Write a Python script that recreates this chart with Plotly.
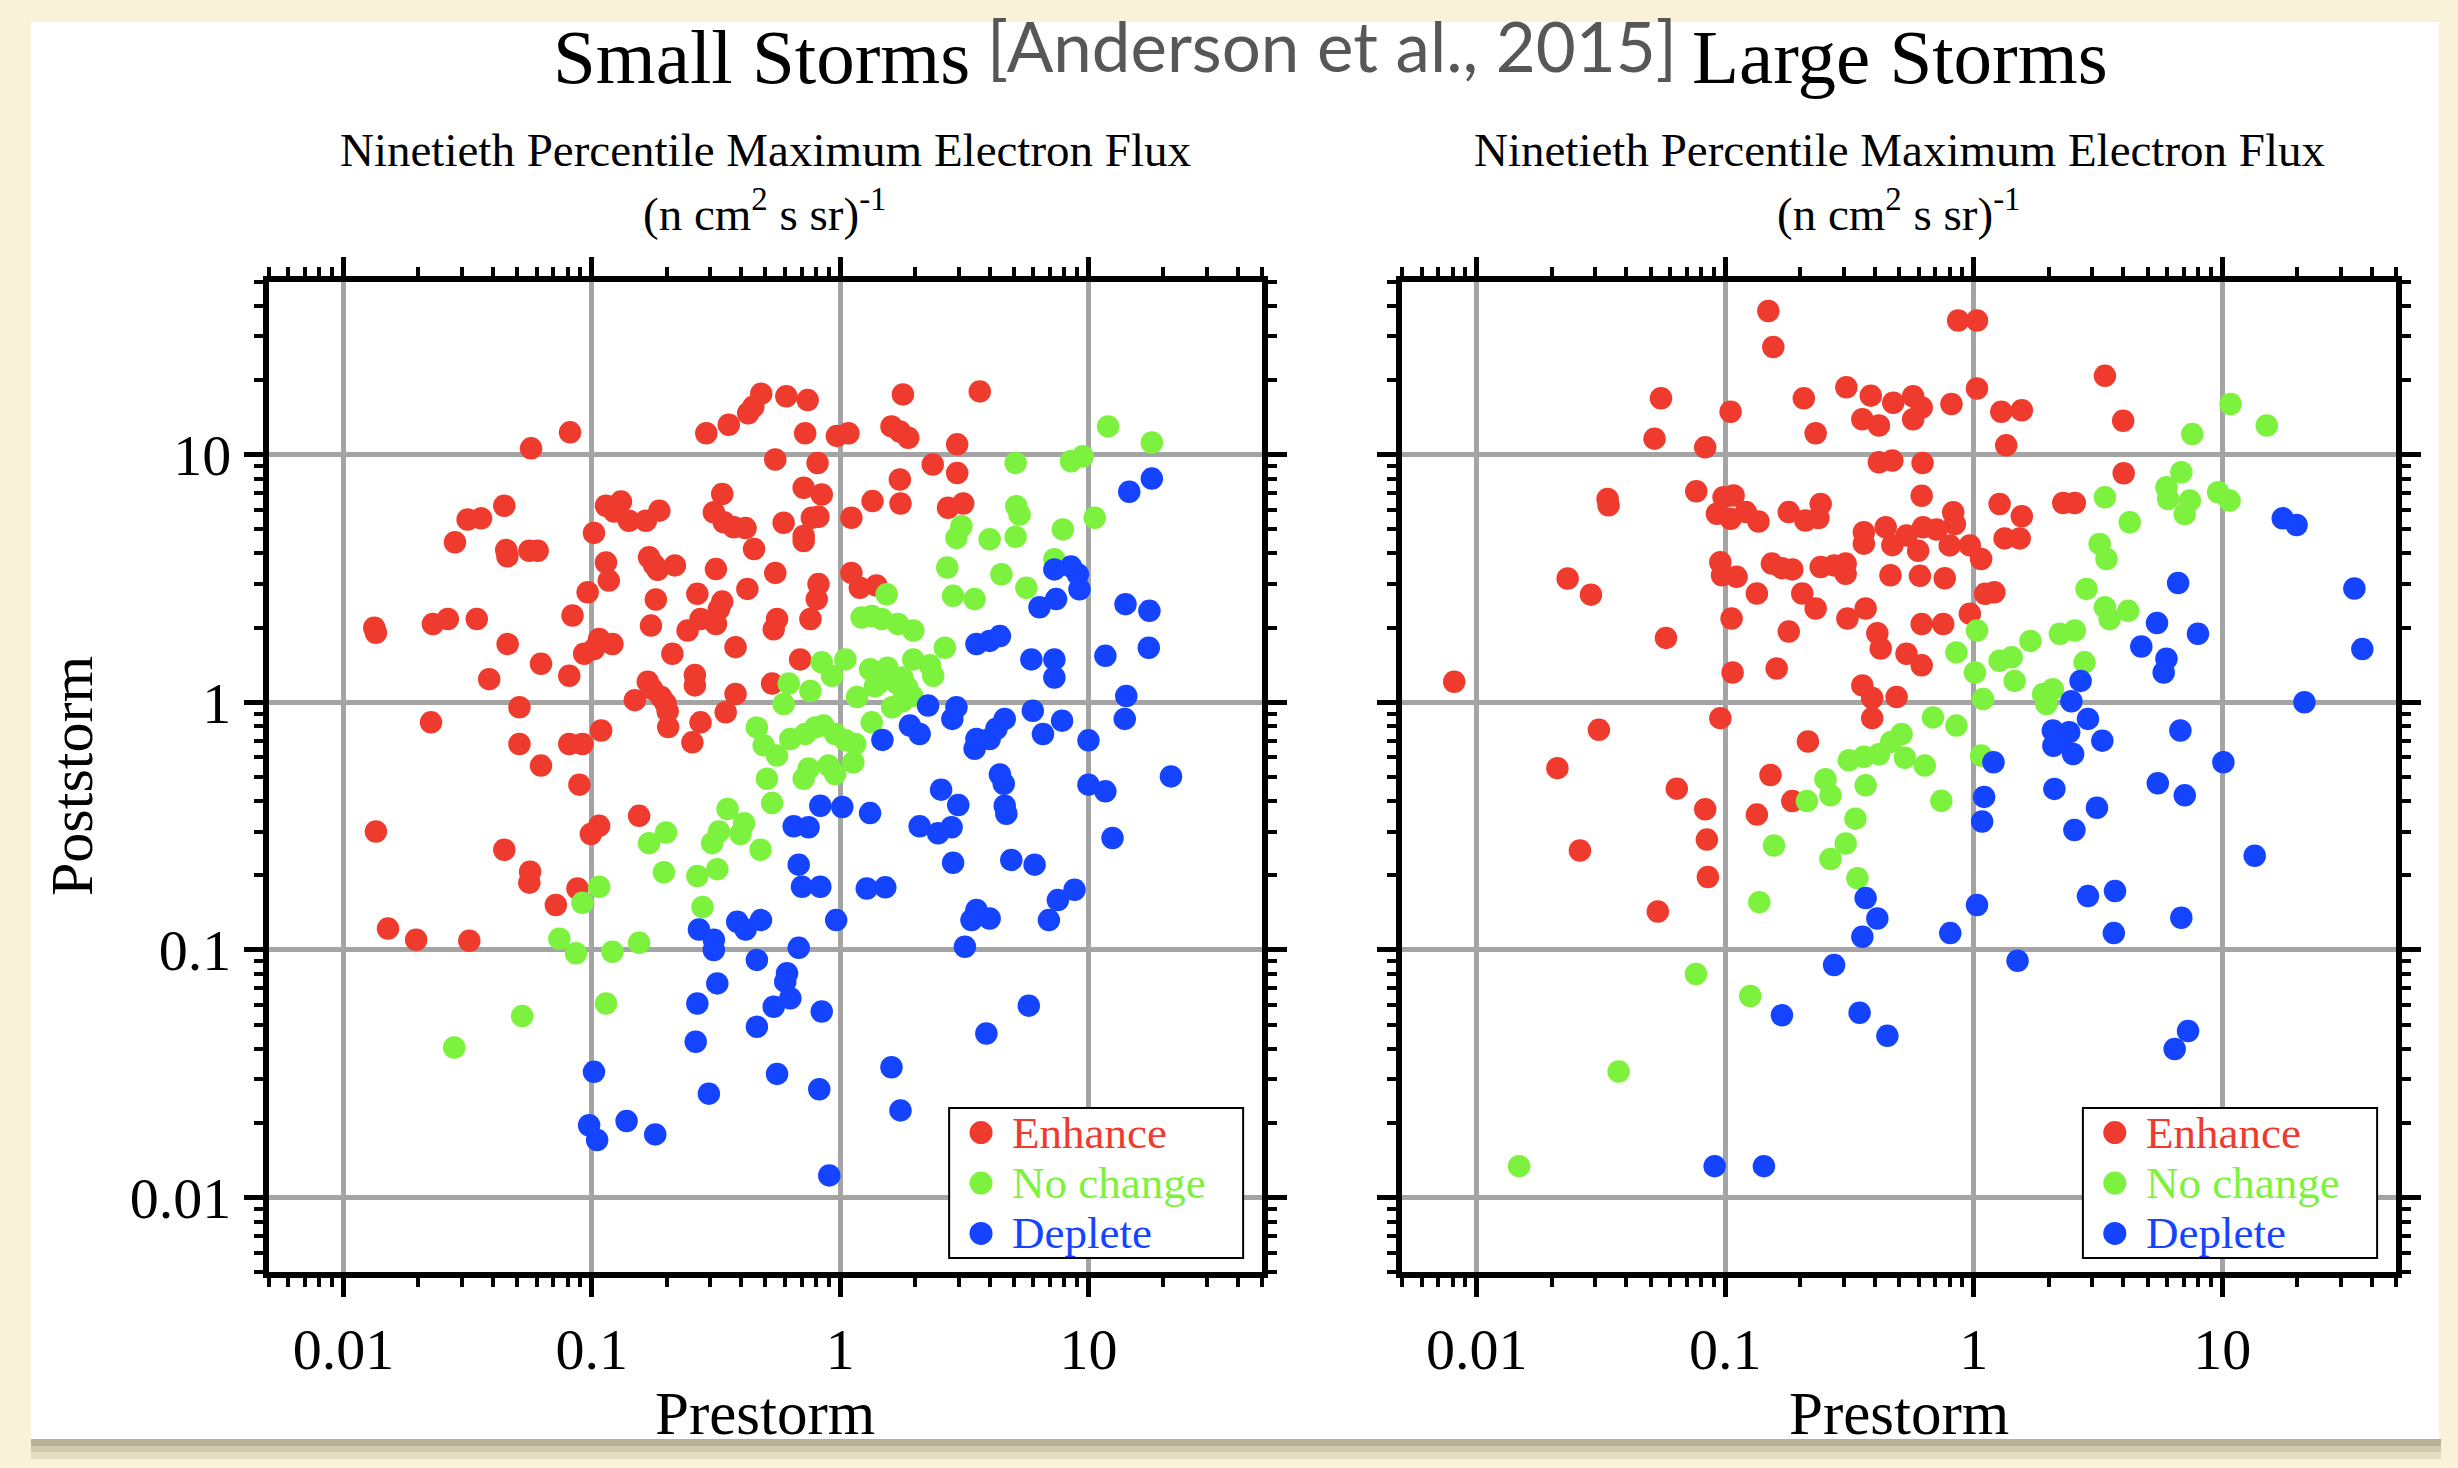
import math
import plotly.graph_objects as go

W, H = 2458, 1468

# ---------------- data: prestorm / poststorm 90th percentile max electron flux ----------------
# Small storms
small_enhance_pre = [
    0.0817, 0.0569, 0.289, 0.356, 0.426, 0.447, 0.481, 0.0444, 0.0316, 0.0358,
    0.0281, 0.0452, 0.0457, 0.0560, 0.0605, 0.102, 0.114, 0.131, 0.123, 0.141,
    0.165, 0.187, 0.335, 0.310, 0.340, 0.373, 0.416, 0.450, 0.316, 0.423,
    0.170, 0.178, 0.184, 0.216, 0.114, 0.117, 0.0962, 0.181, 0.266, 0.335,
    0.325, 0.274, 0.316, 0.243, 0.379, 0.173, 0.0836, 0.107, 0.121, 0.0931,
    0.102, 0.211, 0.260, 0.260, 0.149, 0.168, 0.175, 0.190, 0.198, 0.202,
    0.203, 0.379, 0.346, 0.274, 0.254, 0.109, 0.0811, 0.0916, 0.0624, 0.0511,
    0.0511, 0.0458, 0.0624, 0.0386, 0.0811, 0.0344, 0.0229, 0.0263, 0.0133, 0.0135,
    0.0225, 0.607, 0.740, 1.79, 3.65, 0.723, 0.970, 1.08, 1.61, 1.74,
    1.88, 2.96, 0.548, 0.811, 2.36, 2.96, 1.74, 0.713, 0.843, 1.35,
    1.75, 2.72, 3.13, 0.592, 0.769, 0.818, 0.713, 0.713, 1.11, 0.548,
    1.11, 1.20, 0.818, 0.805, 1.40, 0.557, 0.540, 0.759, 0.690, 0.532,
    0.0891, 0.0135, 0.0444, 0.107, 0.0991, 0.155, 0.0564, 0.0560, 0.0875, 0.0716,
    0.0151, 0.0196, 0.0321,
]
small_enhance_post = [
    12.3, 10.6, 12.2, 13.2, 14.7, 15.6, 17.6, 6.22, 5.47, 5.53,
    4.43, 4.12, 3.89, 4.09, 4.09, 4.83, 6.22, 6.46, 5.89, 5.41,
    5.41, 5.94, 6.93, 5.85, 5.33, 5.09, 5.05, 4.16, 3.45, 2.87,
    3.85, 3.59, 3.43, 3.57, 3.67, 3.10, 2.78, 2.60, 2.74, 2.55,
    2.38, 2.17, 2.07, 1.95, 1.67, 2.04, 2.24, 1.80, 1.72, 1.57,
    1.64, 1.57, 1.29, 1.17, 1.02, 1.21, 1.13, 1.05, 0.991, 0.920,
    0.794, 1.08, 0.912, 0.830, 0.689, 0.769, 0.679, 0.679, 0.555, 0.955,
    0.679, 1.72, 1.43, 1.24, 1.28, 2.17, 2.07, 2.17, 2.00, 1.91,
    0.830, 17.2, 16.6, 17.5, 18.0, 12.2, 11.9, 12.2, 13.0, 12.4,
    11.7, 11.0, 9.55, 9.25, 9.12, 8.43, 7.93, 7.35, 6.90, 6.49,
    6.35, 6.10, 6.35, 5.31, 5.56, 5.61, 4.69, 4.48, 5.56, 3.33,
    3.33, 2.90, 3.00, 2.61, 2.96, 2.17, 1.97, 2.17, 1.49, 1.19,
    0.465, 0.301, 0.254, 0.317, 0.294, 0.348, 0.207, 0.187, 0.177, 0.152,
    0.122, 0.110, 0.109,
]
small_nochange_pre = [
    12.0, 18.0, 5.09, 8.51, 9.48, 5.12, 5.28, 10.6, 7.89, 3.08,
    2.94, 4.00, 5.09, 2.70, 4.46, 5.62, 7.29, 2.85, 3.48, 1.54,
    1.22, 1.34, 1.47, 1.71, 1.97, 2.64, 0.843, 0.927, 1.05, 0.759,
    0.621, 0.592, 1.97, 2.30, 2.37, 1.32, 1.55, 1.78, 1.43, 1.70,
    1.86, 1.95, 1.78, 1.62, 1.17, 1.38, 0.462, 0.492, 0.557, 0.630,
    0.723, 0.794, 0.857, 0.955, 1.05, 1.15, 1.13, 0.898, 0.746, 0.713,
    1.34, 0.507, 0.532, 0.478, 0.955, 0.352, 0.410, 0.397, 0.325, 0.305,
    0.199, 0.170, 0.195, 0.266, 0.320, 0.279, 0.107, 0.0916, 0.0740, 0.0863,
    0.121, 0.155, 0.114, 0.0524, 0.0279,
]
small_nochange_post = [
    13.0, 11.2, 9.25, 9.40, 9.84, 6.19, 5.73, 5.56, 4.99, 5.14,
    4.61, 4.55, 4.66, 3.50, 3.29, 2.90, 3.78, 2.69, 2.61, 2.73,
    2.20, 2.23, 2.17, 2.07, 1.95, 1.66, 1.45, 1.28, 1.49, 1.11,
    1.19, 0.984, 1.49, 1.41, 1.28, 1.36, 1.38, 1.26, 1.20, 1.19,
    1.15, 1.06, 1.01, 0.955, 1.05, 1.16, 0.792, 0.670, 0.610, 0.711,
    0.745, 0.792, 0.805, 0.745, 0.702, 0.679, 0.573, 0.556, 0.540, 0.491,
    0.830, 0.491, 0.392, 0.254, 0.513, 0.371, 0.325, 0.294, 0.301, 0.270,
    0.298, 0.270, 0.206, 0.199, 0.212, 0.149, 0.180, 0.155, 0.111, 0.0970,
    0.0984, 0.107, 0.0608, 0.0541, 0.0404,
]
small_deplete_pre = [
    18.0, 14.6, 7.29, 8.51, 9.06, 9.20, 6.35, 7.41, 14.1, 17.6,
    3.54, 4.00, 4.40, 5.89, 7.29, 7.29, 11.7, 17.5, 14.2, 14.0,
    2.26, 2.94, 2.83, 5.97, 7.83, 4.60, 4.26, 6.56, 3.54, 4.00,
    3.48, 1.91, 2.09, 1.48, 10.0, 21.5, 4.40, 4.56, 2.55, 10.0,
    11.7, 2.99, 4.60, 4.67, 1.32, 0.832, 1.02, 0.650, 0.746, 2.09,
    2.48, 2.81, 12.5, 2.85, 4.89, 6.07, 0.681, 0.702, 0.832, 1.28,
    1.52, 8.79, 7.53, 6.93, 3.54, 4.00, 3.38, 0.480, 0.964, 0.681,
    3.18, 0.462, 0.611, 0.601, 0.540, 0.630, 0.843, 0.462, 5.75, 3.88,
    0.557, 0.824, 1.61, 1.75, 0.904, 0.270, 0.310, 0.310, 0.385, 0.416,
    0.320, 0.266, 0.262, 0.296, 0.102, 0.0975, 0.105, 0.138, 0.180,
]
small_deplete_post = [
    8.00, 7.08, 3.44, 3.53, 3.29, 2.86, 2.42, 2.61, 2.49, 2.34,
    1.72, 1.77, 1.85, 1.49, 1.49, 1.26, 1.54, 1.66, 1.06, 0.857,
    0.971, 0.955, 0.857, 0.925, 0.843, 0.857, 0.782, 0.745, 0.711, 0.711,
    0.649, 0.805, 0.745, 0.705, 0.702, 0.502, 0.511, 0.469, 0.444, 0.465,
    0.437, 0.385, 0.382, 0.355, 0.357, 0.382, 0.378, 0.316, 0.313, 0.316,
    0.296, 0.313, 0.283, 0.225, 0.231, 0.221, 0.221, 0.180, 0.180, 0.177,
    0.179, 0.175, 0.159, 0.132, 0.145, 0.134, 0.132, 0.132, 0.132, 0.102,
    0.103, 0.0912, 0.0805, 0.0745, 0.0590, 0.0638, 0.0564, 0.0490, 0.0596, 0.0460,
    0.0316, 0.0274, 0.0336, 0.0225, 0.0123, 0.121, 0.110, 0.100, 0.130, 0.121,
    0.0733, 0.0608, 0.0426, 0.0263, 0.0322, 0.0196, 0.0171, 0.0204, 0.0180,
]

# Large storms
large_enhance_pre = [
    0.149, 0.156, 0.0551, 0.0519, 0.0830, 0.105, 0.207, 0.231, 0.307, 0.385,
    0.474, 0.356, 0.415, 0.415, 0.470, 0.0336, 0.0339, 0.0764, 0.0984, 0.108,
    0.0925, 0.105, 0.121, 0.136, 0.180, 0.210, 0.242, 0.237, 0.361, 0.361,
    0.442, 0.470, 0.0955, 0.0970, 0.111, 0.154, 0.186, 0.169, 0.242, 0.274,
    0.305, 0.305, 0.462, 0.134, 0.204, 0.231, 0.310, 0.367, 0.106, 0.180,
    0.409, 0.422, 0.0577, 0.0232, 0.0288, 0.107, 0.161, 0.00811, 0.356, 0.390,
    0.390, 0.0955, 0.0310, 0.215, 0.0211, 0.152, 0.865, 1.03, 3.37, 1.03,
    0.813, 0.570, 0.617, 0.570, 1.29, 1.56, 1.35, 3.99, 0.622, 4.01,
    0.617, 1.27, 1.56, 1.33, 1.53, 2.29, 2.55, 0.826, 0.839, 0.536,
    0.625, 0.708, 0.800, 0.964, 1.07, 0.597, 0.607, 0.764, 1.11, 1.21,
    0.964, 0.617, 0.753, 0.536, 0.617, 0.489, 0.0638, 0.0830, 0.0843, 0.0851,
    0.0260, 0.0535, 0.134, 0.186,
]
large_enhance_post = [
    38.0, 27.2, 16.9, 11.6, 10.7, 14.9, 16.9, 12.2, 18.7, 17.3,
    16.2, 13.9, 13.1, 9.31, 9.46, 6.62, 6.24, 7.11, 6.73, 6.84,
    5.77, 5.51, 5.86, 5.37, 5.86, 5.42, 6.32, 5.55, 4.86, 4.37,
    5.09, 4.31, 3.68, 3.26, 3.21, 3.63, 3.44, 3.48, 3.52, 3.57,
    3.63, 3.30, 3.26, 2.75, 2.75, 2.39, 2.18, 2.39, 2.18, 1.93,
    1.90, 1.65, 1.82, 3.16, 2.72, 1.32, 1.37, 1.21, 1.17, 1.04,
    0.863, 0.863, 0.774, 0.695, 0.542, 0.509, 34.8, 34.8, 20.8, 18.5,
    16.0, 17.2, 15.5, 13.9, 14.9, 15.1, 10.9, 13.7, 9.25, 8.41,
    6.82, 6.32, 5.64, 4.59, 4.59, 6.38, 6.38, 5.85, 5.25, 4.71,
    5.09, 4.98, 4.30, 4.30, 3.79, 4.09, 3.24, 3.17, 2.74, 2.78,
    2.28, 2.07, 2.07, 1.57, 1.41, 1.05, 0.448, 0.370, 0.279, 0.197,
    0.252, 0.143, 0.352, 0.399,
]
large_nochange_pre = [
    10.8, 15.1, 7.57, 6.84, 5.96, 6.05, 7.40, 7.06, 9.62, 10.7,
    3.37, 4.24, 3.21, 3.42, 2.84, 3.37, 3.52, 4.18, 2.22, 2.55,
    1.69, 2.79, 1.03, 0.851, 1.27, 1.42, 1.01, 1.46, 1.90, 2.08,
    1.96, 1.09, 0.685, 0.851, 0.512, 0.528, 0.635, 1.07, 0.465, 0.415,
    0.361, 0.314, 0.213, 0.253, 0.265, 0.367, 0.334, 0.305, 0.265, 0.340,
    0.157, 0.137, 0.0762, 0.126, 0.0372, 0.0148, 0.740,
]
large_nochange_post = [
    16.0, 13.1, 12.1, 8.49, 7.38, 6.62, 6.52, 5.75, 7.05, 6.52,
    6.73, 5.33, 4.36, 3.79, 2.87, 2.42, 2.17, 2.34, 1.89, 1.95,
    1.77, 1.45, 1.95, 1.59, 1.47, 1.52, 1.32, 1.22, 1.08, 1.13,
    0.984, 1.03, 0.869, 0.805, 0.745, 0.597, 0.555, 0.610, 0.692, 0.617,
    0.603, 0.583, 0.399, 0.489, 0.421, 0.462, 0.339, 0.269, 0.233, 0.195,
    0.264, 0.156, 0.0800, 0.0652, 0.0323, 0.0134, 0.400,
]
large_deplete_pre = [
    17.5, 19.9, 6.64, 34.0, 5.46, 7.98, 4.72, 5.96, 5.81, 36.6,
    2.69, 2.47, 21.4, 2.88, 2.08, 2.42, 2.09, 2.51, 2.24, 3.29,
    6.78, 1.20, 10.1, 1.10, 1.08, 2.11, 3.13, 2.54, 5.50, 7.06,
    13.5, 2.88, 3.70, 3.66, 6.84, 1.03, 0.804, 1.50, 7.28, 6.43,
    0.367, 0.409, 0.356, 0.274, 0.169, 0.347, 0.449, 0.0906, 0.143,
]
large_deplete_post = [
    5.53, 5.20, 3.03, 2.88, 2.09, 1.89, 1.68, 1.50, 1.32, 1.64,
    1.22, 1.01, 1.00, 0.857, 0.769, 0.757, 0.668, 0.618, 0.708, 0.700,
    0.769, 0.573, 0.573, 0.415, 0.330, 0.447, 0.375, 0.305, 0.471, 0.421,
    0.240, 0.165, 0.173, 0.117, 0.135, 0.152, 0.117, 0.0904, 0.0471, 0.0398,
    0.162, 0.134, 0.113, 0.0869, 0.0545, 0.0558, 0.0450, 0.0134, 0.0134,
]

categories = ["Enhance", "No change", "Deplete"]
tick_values = [0.01, 0.1, 1, 10]
tick_labels = ["0.01", "0.1", "1", "10"]

# ---------------- styling ----------------
RED, GREEN, BLUE = "#ee3b2e", "#7df23e", "#1444ff"
COLORS = [RED, GREEN, BLUE]
SERIF = "Liberation Serif, Times New Roman, serif"
CREAM = "#faf2d8"
GRID = "#a4a4a4"


def fx(p):
    return p / W


def fy(p):
    return 1 - p / H


fig = go.Figure()

panels = [
    ("x", "y", [(small_enhance_pre, small_enhance_post),
                (small_nochange_pre, small_nochange_post),
                (small_deplete_pre, small_deplete_post)]),
    ("x2", "y2", [(large_enhance_pre, large_enhance_post),
                  (large_nochange_pre, large_nochange_post),
                  (large_deplete_pre, large_deplete_post)]),
]
for xa, ya, series in panels:
    for (pre, post), name, col in zip(series, categories, COLORS):
        fig.add_trace(go.Scatter(
            x=pre, y=post, mode="markers", name=name, xaxis=xa, yaxis=ya,
            marker=dict(color=col, size=22.5, line=dict(width=0)),
            showlegend=False, hoverinfo="skip",
        ))

log_range = [math.log10(0.005), math.log10(50)]
minor_ticks = [m * 10.0 ** e for e in range(-3, 2) for m in range(2, 10)]
minor_ticks = [v for v in minor_ticks if 0.005 <= v <= 50]


def log_axis(domain, anchor, show_labels, standoff):
    return dict(
        type="log", range=log_range, domain=domain, anchor=anchor,
        showline=True, linewidth=6, linecolor="black", mirror="allticks",
        ticks="outside", ticklen=19, tickwidth=5, tickcolor="black",
        tickmode="array", tickvals=tick_values, ticktext=tick_labels,
        showticklabels=show_labels, ticklabelstandoff=standoff,
        tickfont=dict(family=SERIF, size=58, color="black"),
        showgrid=True, gridcolor=GRID, gridwidth=5, zeroline=False,
        minor=dict(tickmode="array", tickvals=minor_ticks, ticks="outside",
                   ticklen=9, tickwidth=4, tickcolor="black", showgrid=False),
    )


XL = [fx(268.8), fx(1262)]
XR = [fx(1402), fx(2396)]
YD = [fy(1272.2), fy(281.5)]

fig.update_layout(
    width=W, height=H, margin=dict(l=0, r=0, t=0, b=0),
    paper_bgcolor=CREAM, plot_bgcolor="white", showlegend=False,
    xaxis=log_axis(XL, "y", True, 2),
    yaxis=log_axis(YD, "x", True, 1),
    xaxis2=log_axis(XR, "y2", True, 2),
    yaxis2=log_axis(YD, "x2", False, 1),
)

shapes = []
# card shadow and white card
for y0, y1, a in [(1439, 1446, 0.42), (1446, 1452, 0.26), (1452, 1459, 0.12)]:
    shapes.append(dict(type="rect", xref="paper", yref="paper", layer="below",
                       x0=fx(31), x1=fx(2441), y0=fy(y1), y1=fy(y0),
                       fillcolor=f"rgba(95,88,60,{a})", line=dict(width=0)))
shapes.append(dict(type="rect", xref="paper", yref="paper", layer="below",
                   x0=fx(31), x1=fx(2439), y0=fy(1439), y1=fy(22),
                   fillcolor="white", line=dict(width=0)))

annotations = []
# legend box inside each panel
row_y = [0.1410, 0.0900, 0.0391]
for xa, ya in [("x", "y"), ("x2", "y2")]:
    xr, yr = f"{xa} domain", f"{ya} domain"
    shapes.append(dict(type="rect", xref=xr, yref=yr, layer="above",
                       x0=0.685, x1=0.981, y0=0.0143, y1=0.1657,
                       fillcolor="white", line=dict(color="black", width=2)))
    for yy, name, col in zip(row_y, categories, COLORS):
        shapes.append(dict(type="circle", xref=xr, yref=yr, layer="above",
                           x0=0.7171 - 0.0116, x1=0.7171 + 0.0116,
                           y0=yy - 0.0116, y1=yy + 0.0116,
                           fillcolor=col, line=dict(width=0)))
        annotations.append(dict(xref=xr, yref=yr, x=0.7473, y=yy,
                                xanchor="left", yanchor="middle", showarrow=False,
                                borderpad=0, text=name,
                                font=dict(family=SERIF, size=45, color=col)))

# headline
annotations += [
    dict(xref="paper", yref="paper", x=fx(972), y=fy(57), xanchor="right", yanchor="middle",
         showarrow=False, text="Small Storms", font=dict(family=SERIF, size=77, color="black")),
    dict(xref="paper", yref="paper", x=fx(1332), y=fy(46), xanchor="center", yanchor="middle",
         showarrow=False, text="[Anderson et al., 2015]",
         font=dict(family="Lato, Open Sans, sans-serif", size=69, color="#575757")),
    dict(xref="paper", yref="paper", x=fx(1690), y=fy(57), xanchor="left", yanchor="middle",
         showarrow=False, text="Large Storms", font=dict(family=SERIF, size=77, color="black")),
]

# panel headers and axis titles
for xa in ["x", "x2"]:
    xr = f"{xa} domain"
    annotations += [
        dict(xref=xr, yref="paper", x=0.5, y=fy(150), xanchor="center", yanchor="middle",
             showarrow=False, text="Ninetieth Percentile Maximum Electron Flux",
             font=dict(family=SERIF, size=47, color="black")),
        dict(xref=xr, yref="paper", x=0.5, y=fy(211), xanchor="center", yanchor="middle",
             showarrow=False, text="(n cm<sup>2</sup> s sr)<sup>-1</sup>",
             font=dict(family=SERIF, size=47, color="black")),
        dict(xref=xr, yref="paper", x=0.5, y=fy(1413), xanchor="center", yanchor="middle",
             showarrow=False, text="Prestorm",
             font=dict(family=SERIF, size=61, color="black")),
    ]
annotations.append(dict(xref="paper", yref="paper", x=fx(72), y=fy(776), xanchor="center",
                        yanchor="middle", textangle=-90, showarrow=False, text="Poststorm",
                        font=dict(family=SERIF, size=60, color="black")))

fig.update_layout(shapes=shapes, annotations=annotations)
fig.write_html("out.html")
